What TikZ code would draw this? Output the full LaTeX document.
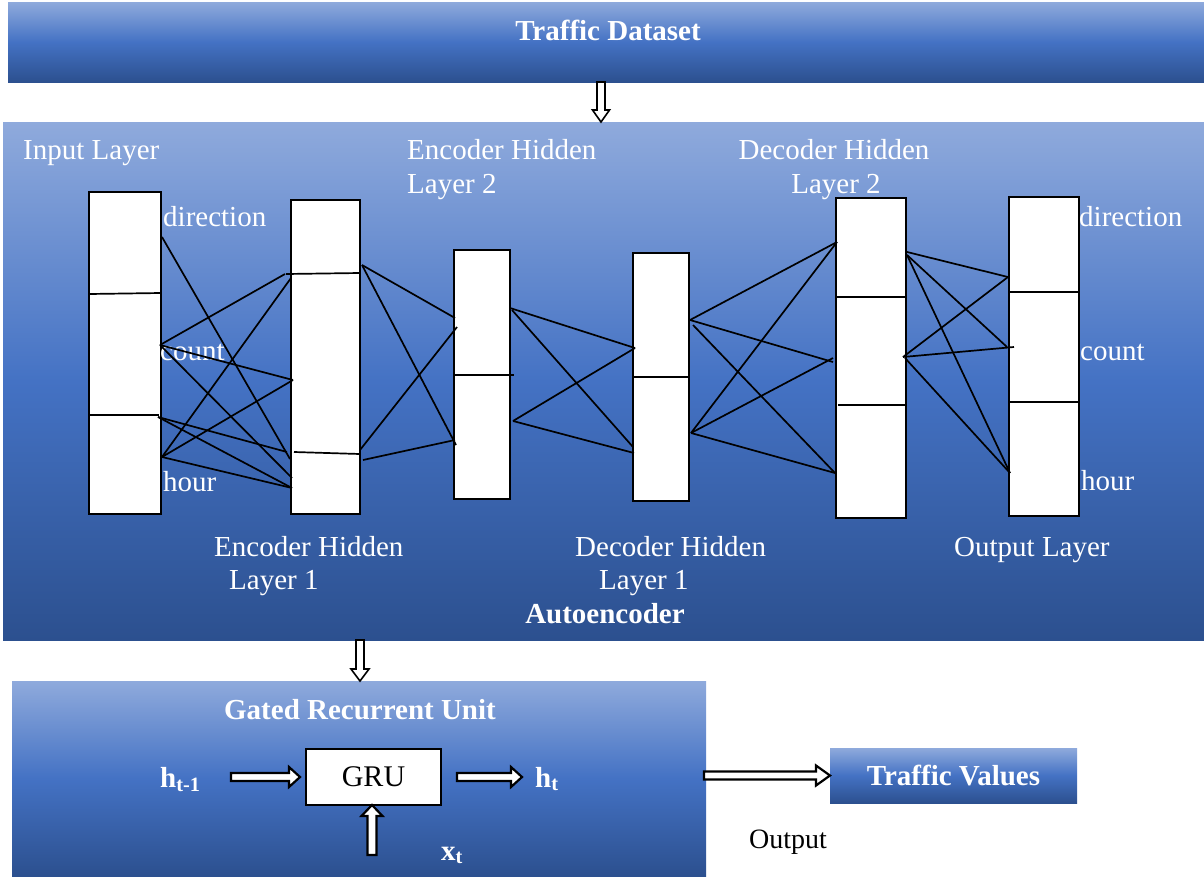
\documentclass[tikz,border=0pt]{standalone}
\usepackage{fontspec}
\setmainfont{Liberation Serif}
\usetikzlibrary{calc}
\definecolor{glight}{RGB}{143,170,220}
\definecolor{gmid}{RGB}{68,114,196}
\definecolor{gdark}{RGB}{44,80,143}
\newcommand{\hollowdown}[6][]{\draw[hollow,#1] let \p1=(#2), \p2=(#3) in (\x1-#4,\y1) -- (\x1-#4,\y2+#6) -- (\x1-#5,\y2+#6) -- (\x1,\y2) -- (\x1+#5,\y2+#6) -- (\x1+#4,\y2+#6) -- (\x1+#4,\y1) -- cycle;}
\newcommand{\hollowup}[6][]{\draw[hollow,#1] let \p1=(#2), \p2=(#3) in (\x1-#4,\y1) -- (\x1-#4,\y2-#6) -- (\x1-#5,\y2-#6) -- (\x1,\y2) -- (\x1+#5,\y2-#6) -- (\x1+#4,\y2-#6) -- (\x1+#4,\y1) -- cycle;}
\newcommand{\hollowright}[6][]{\draw[hollow,#1] let \p1=(#2), \p2=(#3) in (\x1,\y1+#4) -- (\x2-#6,\y1+#4) -- (\x2-#6,\y1+#5) -- (\x2,\y1) -- (\x2-#6,\y1-#5) -- (\x2-#6,\y1-#4) -- (\x1,\y1-#4) -- cycle;}
\begin{document}
\begin{tikzpicture}[x=1pt,y=-1pt,
 panel/.style={anchor=north west, inner sep=0pt, outer sep=0pt, draw=none, top color=glight, bottom color=gdark, middle color=gmid},
 layer/.style={anchor=north west, inner sep=0pt, outer sep=0pt, draw=black, fill=white, line width=2pt},
 conn/.style={draw=black, line width=1.7pt},
 lbl/.style={text=white, font=\fontsize{29}{34}\selectfont, inner sep=0pt},
 title/.style={text=white, font=\fontsize{29}{34}\selectfont\bfseries, inner sep=0pt},
 hollow/.style={draw=black, fill=white, line width=1.6pt, line join=miter}]

\useasboundingbox (0,0) rectangle (1204,878);
\fill[white] (0,0) rectangle (1204,878);

% panels
\node[panel, minimum width=1196pt, minimum height=80pt] (ds) at (8,2) {};
\node[panel, minimum width=1201pt, minimum height=518pt] (ae) at (3,122) {};
\node[panel, minimum width=694pt, minimum height=195pt] (gp) at (12,681) {};
\node[panel, minimum width=247pt, minimum height=55pt, text=white, font=\fontsize{29}{34}\selectfont\bfseries] (tv) at (830,748) {Traffic Values};

% titles
\node[title, anchor=base] (dst) at (608,40) {Traffic Dataset};
\node[title, anchor=base] (aet) at (605,623) {Autoencoder};
\node[title, anchor=base] (gpt) at (360,719) {Gated Recurrent Unit};

% layer labels
\node[lbl, anchor=base west] (tin) at (23,159) {Input Layer};
\node[lbl, anchor=base west] (te2a) at (407,159) {Encoder Hidden};
\node[lbl, anchor=base west] (te2b) at (407,193) {Layer 2};
\node[lbl, anchor=base] (td2a) at (834,159) {Decoder Hidden};
\node[lbl, anchor=base] (td2b) at (836,193) {Layer 2};
\node[lbl, anchor=base west] (te1a) at (214,556) {Encoder Hidden};
\node[lbl, anchor=base west] (te1b) at (229,589) {Layer 1};
\node[lbl, anchor=base west] (td1a) at (575,556) {Decoder Hidden};
\node[lbl, anchor=base west] (td1b) at (599,589) {Layer 1};
\node[lbl, anchor=base west] (tout) at (954,556) {Output Layer};

% layers
\node[layer, minimum width=72pt, minimum height=322pt] (L1) at (89,192) {};
\node[layer, minimum width=69pt, minimum height=314pt] (L2) at (291,200) {};
\node[layer, minimum width=56pt, minimum height=249pt] (L3) at (454,250) {};
\node[layer, minimum width=56pt, minimum height=248pt] (L4) at (633,253) {};
\node[layer, minimum width=70pt, minimum height=320pt] (L5) at (836,198) {};
\node[layer, minimum width=70pt, minimum height=319pt] (L6) at (1009,197) {};

% dividers
\draw[conn] (L1.west |- 0,294) -- (L1.east |- 0,293);
\draw[conn] (L1.west |- 0,415) -- ([xshift=-2pt]L1.east |- 0,415);
\draw[conn] ([xshift=-5pt]L2.west |- 0,274) -- (L2.east |- 0,273);
\draw[conn] ([xshift=3pt]L2.west |- 0,452) -- (L2.east |- 0,454);
\draw[conn] (L3.west |- 0,375) -- ([xshift=4pt]L3.east |- 0,375);
\draw[conn] (L4.west |- 0,377) -- (L4.east |- 0,377);
\draw[conn] (L5.west |- 0,297) -- (L5.east |- 0,297);
\draw[conn] ([xshift=2pt]L5.west |- 0,405) -- (L5.east |- 0,405);
\draw[conn] (L6.west |- 0,292) -- (L6.east |- 0,292);
\draw[conn] (L6.west |- 0,402) -- (L6.east |- 0,402);

% unit labels
\node[lbl, anchor=base west] (dirL) at (163,226) {direction};
\node[lbl, anchor=base west] (cntL) at (160,360) {count};
\node[lbl, anchor=base west] (hrL) at (163,491) {hour};
\node[lbl, anchor=base west] (dirR) at (1079,226) {direction};
\node[lbl, anchor=base west] (cntR) at (1080,360) {count};
\node[lbl, anchor=base west] (hrR) at (1081,490) {hour};

% ports
\coordinate (a1) at (162,237); \coordinate (a2) at (160,345);
\coordinate (a3) at (158,417); \coordinate (a4) at (162,457);
\coordinate (b1) at (285,274); \coordinate (b2) at (291,278);
\coordinate (b3) at (293,380); \coordinate (b4) at (287,452);
\coordinate (b5) at (290,459); \coordinate (b6) at (292,478);
\coordinate (b7) at (292,488);
\coordinate (c1) at (362,265); \coordinate (c2) at (360,450); \coordinate (c3) at (363,460);
\coordinate (d1) at (455,318); \coordinate (d2) at (457,327);
\coordinate (d3) at (455,440); \coordinate (d4) at (456,445);
\coordinate (e1) at (510,308); \coordinate (e2) at (512,310); \coordinate (e3) at (513,421);
\coordinate (f1) at (635,348); \coordinate (f2) at (633,447); \coordinate (f3) at (634,453);
\coordinate (g1) at (690,320); \coordinate (g2) at (693,325); \coordinate (g3) at (691,433);
\coordinate (h1) at (837,242); \coordinate (h2) at (833,362);
\coordinate (h3) at (833,358); \coordinate (h4) at (835,473);
\coordinate (i1) at (907,252); \coordinate (i2) at (907,255);
\coordinate (i3) at (903,357); \coordinate (i4) at (905,358);
\coordinate (j1) at (1008,277); \coordinate (j2) at (1007,347);
\coordinate (j3) at (1014,347); \coordinate (j4) at (1010,473);

% connections
\draw[conn] (a1) -- (b5); \draw[conn] (a2) -- (b1); \draw[conn] (a2) -- (b3);
\draw[conn] (a2) -- (b6); \draw[conn] (a3) -- (b4); \draw[conn] (a3) -- (b7);
\draw[conn] (a4) -- (b2); \draw[conn] (a4) -- (b3); \draw[conn] (a4) -- (b7);
\draw[conn] (c1) -- (d1); \draw[conn] (c1) -- (d4); \draw[conn] (c2) -- (d2); \draw[conn] (c3) -- (d3);
\draw[conn] (e1) -- (f1); \draw[conn] (e2) -- (f2); \draw[conn] (e3) -- (f1); \draw[conn] (e3) -- (f3);
\draw[conn] (g1) -- (h1); \draw[conn] (g1) -- (h2); \draw[conn] (g2) -- (h4);
\draw[conn] (g3) -- (h1); \draw[conn] (g3) -- (h3); \draw[conn] (g3) -- (h4);
\draw[conn] (i1) -- (j1); \draw[conn] (i2) -- (j2); \draw[conn] (i2) -- (j4);
\draw[conn] (i3) -- (j1); \draw[conn] (i3) -- (j3); \draw[conn] (i4) -- (j4);

% GRU
\node[layer, minimum width=135pt, minimum height=56pt, font=\fontsize{30}{34}\selectfont] (gru) at (306,749) {GRU};
\node[lbl, anchor=base west, font=\fontsize{29}{34}\selectfont\bfseries] (hprev) at (160,787) {h\textsubscript{t-1}};
\node[lbl, anchor=base west, font=\fontsize{29}{34}\selectfont\bfseries] (hcur) at (535,787) {h\textsubscript{t}};
\node[lbl, anchor=base west, font=\fontsize{29}{34}\selectfont\bfseries] (xcur) at (441,860) {x\textsubscript{t}};
\node[anchor=base, inner sep=0pt, font=\fontsize{28}{34}\selectfont] (outl) at (788,848) {Output};

% hollow arrows
\coordinate (ax1) at (601,0);
\coordinate (ax2) at (360,0);
\coordinate (hin) at (231,777);
\coordinate (hout) at (522,777);
\coordinate (xin) at (372,855);
\hollowdown{ds.south -| ax1}{ae.north -| ax1}{4pt}{8.5pt}{12pt}
\hollowdown{ae.south -| ax2}{gp.north -| ax2}{4pt}{9pt}{12pt}
\hollowright[line width=2.2pt]{hin}{[xshift=-6pt]gru.west}{4pt}{10pt}{11pt}
\hollowright[line width=2.2pt]{[xshift=16pt]gru.east |- hout}{hout}{4pt}{10pt}{11pt}
\hollowup[line width=2.2pt]{xin}{gru.south -| xin}{4.5pt}{10.5pt}{11pt}
\hollowright[line width=2.2pt]{[xshift=-2pt]gp.east |- tv.west}{tv.west}{4pt}{10pt}{14pt}
\end{tikzpicture}
\end{document}
